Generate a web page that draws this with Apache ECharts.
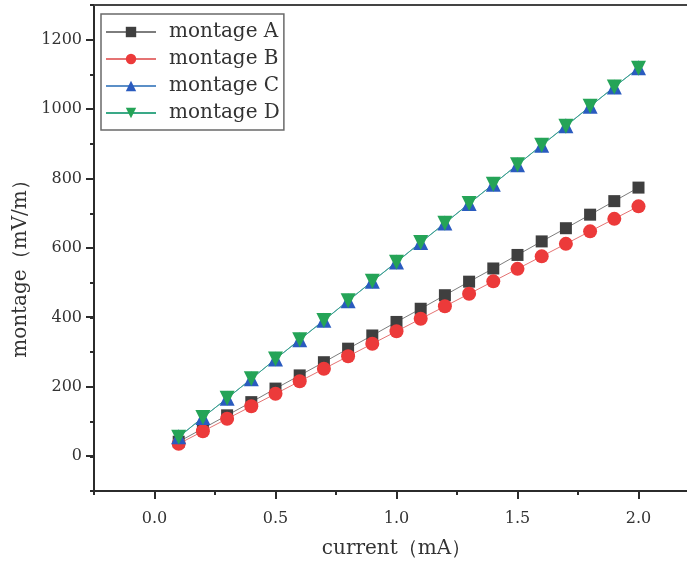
<!DOCTYPE html>
<html>
<head>
<meta charset="utf-8">
<script src="https://cdn.jsdelivr.net/npm/echarts@6/dist/echarts.min.js"></script>
<style>
  html, body { margin: 0; padding: 0; background: #fff; }
  #chart { width: 687px; height: 562px; }
</style>
</head>
<body>
<div id="chart"></div>
<script>
// current (mA)
var current = [0.1, 0.2, 0.3, 0.4, 0.5, 0.6, 0.7, 0.8, 0.9, 1.0,
               1.1, 1.2, 1.3, 1.4, 1.5, 1.6, 1.7, 1.8, 1.9, 2.0];

// montage (mV/m)
var montageA = [42, 80, 118, 156, 195, 233, 271, 310, 348, 387,
                425, 464, 503, 541, 580, 619, 657, 696, 735, 774];
var montageB = [36, 72, 108, 144, 180, 216, 252, 288, 324, 360,
                396, 432, 468, 504, 540, 576, 612, 648, 684, 720];
var montageC = [56, 112, 167, 223, 280, 336, 392, 448, 504, 560,
                616, 672, 728, 784, 840, 896, 952, 1008, 1064, 1119];
var montageD = [55, 112, 167, 223, 280, 336, 391, 448, 504, 559,
                616, 671, 728, 784, 840, 896, 951, 1008, 1064, 1118];

var seriesNames = ['montage A', 'montage B', 'montage C', 'montage D'];

// tick labels
var xTickLabels = [0, 0.5, 1.0, 1.5, 2.0];
var yTickLabels = [0, 200, 400, 600, 800, 1000, 1200];

var font = 'DejaVu Serif';
var axisColor = '#2b2b2b';
var xMin = -0.25, xMax = 2.25, yMin = -100, yMax = 1300;
var majorLen = 8;

function pairs(ys) {
  return current.map(function(x, i) { return [x, ys[i]]; });
}

var styles = [
  { symbol: 'rect', size: 12, rotate: 0, line: '#7d7d7d', mark: '#3f3f3f' },
  { symbol: 'circle', size: 14, rotate: 0, line: '#e57373', mark: '#ec3a3a' },
  { symbol: 'triangle', size: 15, rotate: 0, line: '#5b8fc7', mark: '#2a5bbf' },
  { symbol: 'triangle', size: 15, rotate: 180, line: '#3aa987', mark: '#25a457' }
];

var series = [];
[montageA, montageB, montageC, montageD].forEach(function(vals, i) {
  var s = styles[i];
  series.push({
    name: seriesNames[i],
    type: 'line',
    symbol: s.symbol,
    symbolSize: s.size,
    symbolRotate: s.rotate,
    showAllSymbol: true,
    lineStyle: { color: s.line, width: 1 },
    itemStyle: { color: s.mark },
    emphasis: { disabled: true },
    data: pairs(vals)
  });
});

// major ticks at the labelled values, placed through the axes' scales
function majorTicks(data, dx, dy) {
  return {
    type: 'custom',
    silent: true,
    clip: false,
    z: 5,
    data: data,
    renderItem: function(params, api) {
      var p = api.coord([api.value(0), api.value(1)]);
      var x = Math.round(p[0]), y = Math.round(p[1]);
      return {
        type: 'line',
        shape: { x1: x, y1: y, x2: x + dx, y2: y + dy },
        style: { stroke: axisColor, lineWidth: 2 }
      };
    }
  };
}
series.push(majorTicks(xTickLabels.map(function(v) { return [v, yMin]; }), 0, majorLen));
series.push(majorTicks(yTickLabels.map(function(v) { return [xMin, v]; }), -majorLen, 0));

var labelStyle = { fontFamily: font, fontSize: 16, color: '#333' };

var option = {
  backgroundColor: '#fff',
  animation: false,
  grid: { left: 94, right: -12, top: 5, bottom: 71, outerBoundsMode: 'none' },
  legend: {
    orient: 'vertical',
    left: 101,
    top: 14,
    padding: [8, 4, 7, 4],
    borderColor: '#6a6a6a',
    borderWidth: 1.5,
    itemWidth: 50,
    itemHeight: 13,
    itemGap: 7,
    textStyle: { fontFamily: font, fontSize: 20, color: '#333', padding: [0, 0, 0, 8] },
    data: seriesNames
  },
  xAxis: [{
    type: 'value',
    min: xMin,
    max: xMax,
    interval: 0.25,
    name: 'current（mA）',
    nameLocation: 'middle',
    nameGap: 48,
    nameTextStyle: { fontFamily: font, fontSize: 20, color: '#333' },
    axisLine: { show: true, onZero: false, lineStyle: { color: axisColor, width: 2 } },
    axisTick: { show: true, length: 4, lineStyle: { color: axisColor, width: 2 } },
    axisLabel: Object.assign({ customValues: xTickLabels, margin: 20,
                               formatter: function(v) { return v.toFixed(1); } }, labelStyle),
    splitLine: { show: false }
  }, {
    // top frame
    type: 'value',
    position: 'top',
    min: xMin,
    max: xMax,
    axisLine: { show: true, onZero: false, lineStyle: { color: '#444', width: 2 } },
    axisTick: { show: false },
    axisLabel: { show: false },
    splitLine: { show: false }
  }],
  yAxis: {
    type: 'value',
    min: yMin,
    max: yMax,
    interval: 100,
    name: 'montage（mV/m）',
    nameLocation: 'middle',
    nameGap: 58,
    nameTextStyle: { fontFamily: font, fontSize: 20, color: '#333', padding: [0, 32, 0, 0] },
    axisLine: { show: true, onZero: false, lineStyle: { color: axisColor, width: 2 } },
    axisTick: { show: true, length: 4, lineStyle: { color: axisColor, width: 2 } },
    axisLabel: Object.assign({ customValues: yTickLabels, margin: 12,
                               formatter: function(v) { return String(v); } }, labelStyle),
    splitLine: { show: false }
  },
  series: series
};

var myChart = echarts.init(document.getElementById('chart'));
myChart.setOption(option);
</script>
</body>
</html>
